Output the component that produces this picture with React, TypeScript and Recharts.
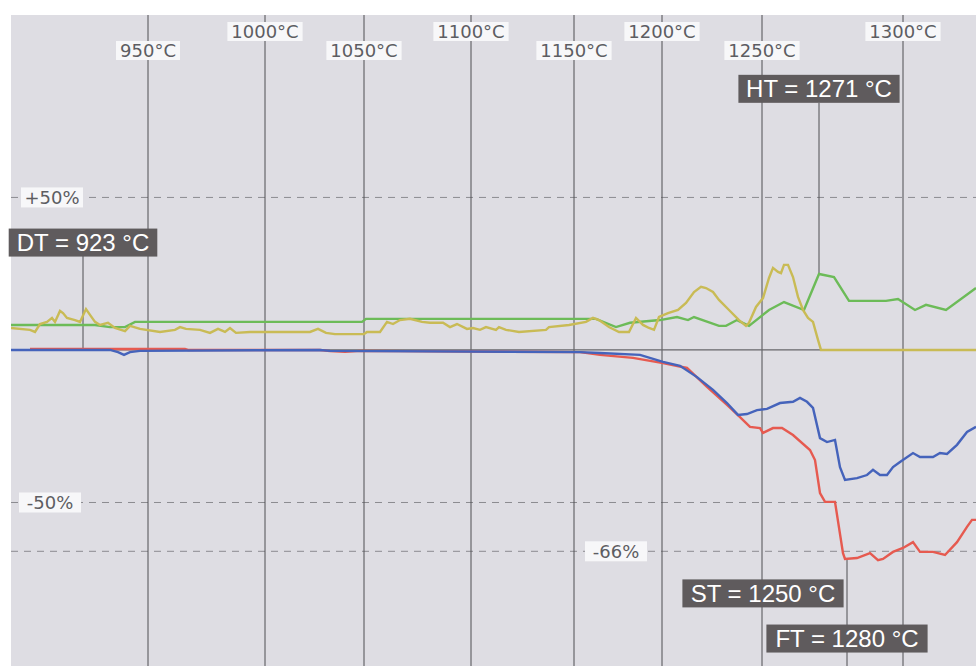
import React from 'react'
import { LineChart, Line, XAxis, YAxis, ReferenceArea, ReferenceLine, ReferenceDot } from 'recharts'

// time axis in minutes, height change in %
const tempLabels = ['950°C', '1000°C', '1050°C', '1100°C', '1150°C', '1200°C', '1250°C', '1300°C']
const tempTimes = [13.7, 25.4, 35.3, 46.0, 56.3, 65.1, 75.1, 89.2]

const levelValues = [50, -50, -66]
const levelLabels = ['+50%', '-50%', '-66%']
const levelLabelTimes = [4.1, 3.9, 60.5]

const markerNames = ['DT', 'HT', 'ST', 'FT']
const markerTemps = [923, 1271, 1250, 1280]
const markerTimes = [7.2, 80.8, 75.2, 83.6]

const greenTime = [0, 8.4, 9.9, 11.4, 12.4, 35.1, 35.5, 58.5, 60.5, 61.9, 64.9, 66.6, 67.7, 68.3, 70.8, 71.5, 72.6, 73.8, 75.8, 77.3, 79.3, 80.8, 82.3, 83.8, 87.5, 88.7, 90.4, 91.5, 93.5, 96.5]
const greenPct = [8.2, 8.2, 7.5, 7.5, 9.2, 9.2, 10.2, 10.2, 7.5, 8.9, 9.8, 10.8, 9.8, 10.8, 7.9, 7.9, 9.8, 7.9, 13.1, 15.7, 13.1, 24.9, 23.9, 16.1, 16.1, 16.7, 13.1, 14.8, 13.1, 20.3]

const yellowTime = [0, 1.9, 2.4, 2.9, 3.6, 4.1, 4.4, 4.9, 5.2, 5.6, 6.4, 6.9, 7.5, 7.9, 8.4, 8.9, 9.7, 10.4, 11.4, 11.9, 12.9, 14.9, 16.4, 16.9, 17.5, 18.9, 19.9, 20.7, 21.4, 21.9, 22.5, 23.9, 29.9, 30.7, 31.5, 32.4, 35.3, 35.6, 36.9, 37.6, 38.2, 38.9, 39.9, 41.1, 41.9, 43.2, 43.9, 44.6, 45.6, 46.2, 46.9, 47.5, 48.5, 48.8, 49.5, 50.8, 53.5, 53.8, 55.8, 57.5, 58.2, 58.8, 59.8, 60.8, 61.8, 62.5, 63.2, 63.8, 64.3, 64.8, 65.7, 66.7, 67.5, 68.3, 69.0, 69.5, 70.2, 70.8, 71.8, 72.8, 73.5, 73.8, 74.5, 75.2, 75.8, 76.2, 76.7, 77.0, 77.3, 77.7, 78.2, 78.7, 79.2, 79.7, 80.2, 80.7, 81.0, 96.5]
const yellowPct = [7.2, 6.6, 5.9, 8.5, 9.2, 10.5, 9.2, 12.8, 12.1, 10.5, 9.8, 9.2, 13.4, 11.5, 9.2, 8.2, 8.9, 7.2, 6.2, 7.9, 6.9, 5.9, 6.6, 7.5, 6.9, 6.6, 5.6, 6.9, 5.9, 7.2, 5.6, 5.9, 5.9, 6.9, 5.6, 5.2, 5.2, 5.9, 5.9, 9.2, 8.5, 9.8, 10.2, 9.2, 8.9, 8.9, 7.5, 8.5, 6.9, 7.2, 6.6, 7.5, 6.6, 7.5, 6.6, 5.9, 6.6, 7.5, 8.2, 9.2, 10.5, 9.8, 7.5, 5.9, 5.9, 10.5, 8.2, 7.2, 6.6, 10.8, 12.1, 13.1, 15.4, 19.0, 20.7, 20.3, 19.0, 16.4, 13.1, 9.8, 7.9, 8.9, 14.1, 17.0, 23.6, 26.9, 25.6, 25.2, 27.9, 27.9, 23.9, 17.4, 13.1, 10.5, 9.2, 3.3, 0, 0]

const redTime = [1.9, 17.4, 17.7, 30.9, 31.9, 33.4, 35.0, 56.9, 58.9, 62.2, 65.2, 67.6, 69.6, 71.6, 72.9, 73.9, 74.9, 75.2, 76.2, 77.1, 78.2, 79.9, 80.4, 80.9, 81.4, 82.4, 83.2, 83.4, 84.6, 85.9, 86.7, 87.2, 88.2, 89.2, 90.2, 90.9, 92.2, 93.4, 94.6, 95.6, 96.1, 96.5]
const redPct = [0.3, 0.3, 0, 0, -0.4, -0.6, -0.3, -0.7, -1.6, -2.6, -4.3, -5.9, -12.1, -18.0, -22.0, -25.2, -25.6, -27.2, -25.6, -25.6, -27.9, -32.8, -36.1, -46.9, -49.8, -49.8, -66.6, -68.5, -68.2, -66.6, -68.9, -68.5, -66.2, -64.9, -63.0, -66.2, -66.2, -67.2, -63.0, -58.0, -55.7, -55.7]

const blueTime = [0, 9.9, 10.7, 11.3, 11.9, 12.9, 30.9, 31.9, 56.9, 58.9, 62.9, 65.2, 66.9, 68.6, 70.2, 71.6, 72.7, 73.6, 74.6, 75.6, 76.9, 78.2, 78.9, 79.6, 80.2, 80.9, 81.6, 82.4, 82.9, 83.4, 84.6, 85.6, 86.2, 86.9, 87.6, 88.2, 88.9, 90.2, 90.9, 92.2, 92.9, 93.6, 94.6, 95.6, 96.5]
const bluePct = [0, 0, -0.7, -1.6, -0.7, -0.3, 0, -0.3, -0.7, -1.0, -1.6, -3.9, -5.2, -8.9, -13.1, -17.4, -21.3, -21.0, -19.7, -19.3, -17.4, -17.0, -15.7, -17.0, -19.0, -28.9, -30.2, -29.5, -38.4, -42.6, -42.0, -41.0, -39.3, -41.0, -41.0, -38.4, -36.7, -33.8, -35.1, -35.1, -33.8, -34.1, -31.1, -26.9, -25.2]

const toPoints = (time: number[], pct: number[]) => time.map((t, i) => ({ t, v: pct[i] }))

const series = [
    { key: 'green', data: toPoints(greenTime, greenPct), color: '#6cbb58' },
    { key: 'yellow', data: toPoints(yellowTime, yellowPct), color: '#c9bb55' },
    { key: 'red', data: toPoints(redTime, redPct), color: '#e65a50' },
    { key: 'blue', data: toPoints(blueTime, bluePct), color: '#4563bb' },
]

const X_DOMAIN: [number, number] = [0, 96.5]
const Y_DOMAIN: [number, number] = [-103.6, 109.8]

// where each marker's dark tag sits, and the leader line under/over it
const markerTagY = [35.2, 85.6, -79.8, -94.6]
const markerLeader: ([number, number] | null)[] = [[0, 30.8], [24.9, 81], null, [-103.6, -68.2]]

const tickFont = '"DejaVu Sans", sans-serif'
const tagFont = '"Liberation Sans", Arial, sans-serif'

function TempTag(props: any) {
    const { viewBox, text, row } = props
    const x = viewBox.x
    const cy = viewBox.y + (row === 0 ? 16.5 : 35.5)
    const w = text.length * 11.2 + 8
    return (
        <g>
            <rect x={x - w / 2} y={cy - 9.5} width={w} height={19} fill="#f7f7f9" />
            <text x={x} y={cy + 6.5} textAnchor="middle" fontSize={18} fontFamily={tickFont} fill="#5d5d62">{text}</text>
        </g>
    )
}

function LevelTag(props: any) {
    const { cx, cy, text } = props
    const w = 62
    return (
        <g>
            <rect x={cx - w / 2} y={cy - 10} width={w} height={20} fill="#f7f7f9" />
            <text x={cx} y={cy + 6.5} textAnchor="middle" fontSize={18} fontFamily={tickFont} fill="#5d5d62">{text}</text>
        </g>
    )
}

function MarkerTag(props: any) {
    const { cx, cy, text } = props
    const w = text.length * 12.6 + 10
    return (
        <g>
            <rect x={cx - w / 2} y={cy - 14} width={w} height={28} fill="#5f5b5d" />
            <text x={cx} y={cy + 8.5} textAnchor="middle" fontSize={24} fontFamily={tagFont} fill="#ffffff">{text}</text>
        </g>
    )
}

export default function App() {
    return (
        <div style={{ position: 'absolute', left: 0, top: 0, width: 976, height: 666, background: '#ffffff' }}>
            <LineChart width={976} height={666} margin={{ top: 15, right: 0, bottom: 0, left: 11 }}>
                <XAxis type="number" dataKey="t" domain={X_DOMAIN} hide allowDataOverflow />
                <YAxis type="number" dataKey="v" domain={Y_DOMAIN} hide allowDataOverflow />
                <ReferenceArea x1={X_DOMAIN[0]} x2={X_DOMAIN[1]} y1={Y_DOMAIN[0]} y2={Y_DOMAIN[1]} fill="#dedde3" fillOpacity={1} stroke="none" />
                {levelValues.map((v) => (
                    <ReferenceLine key={`lvl-${v}`} y={v} stroke="#8b8b90" strokeDasharray="7 6" />
                ))}
                {tempTimes.map((t, i) => (
                    <ReferenceLine key={`temp-${i}`} x={t} stroke="#4e4e52" strokeWidth={1}
                        label={(p: any) => <TempTag {...p} text={tempLabels[i]} row={i % 2 === 0 ? 1 : 0} />} />
                ))}
                {markerLeader.map((seg, i) => seg && (
                    <ReferenceLine key={`lead-${i}`} segment={[{ x: markerTimes[i], y: seg[0] }, { x: markerTimes[i], y: seg[1] }]} stroke="#4e4e52" strokeWidth={1} />
                ))}
                <ReferenceLine y={0} stroke="#66666a" strokeWidth={1.2} />
                {series.map((s) => (
                    <Line key={s.key} data={s.data} dataKey="v" type="linear" stroke={s.color} strokeWidth={2.4}
                        dot={false} activeDot={false} isAnimationActive={false} />
                ))}
                {levelValues.map((v, i) => (
                    <ReferenceDot key={`lvl-tag-${i}`} x={levelLabelTimes[i]} y={v} r={0}
                        shape={(p: any) => <LevelTag {...p} text={levelLabels[i]} />} />
                ))}
                {markerNames.map((name, i) => (
                    <ReferenceDot key={`tag-${name}`} x={markerTimes[i]} y={markerTagY[i]} r={0}
                        shape={(p: any) => <MarkerTag {...p} text={`${name} = ${markerTemps[i]} °C`} />} />
                ))}
            </LineChart>
        </div>
    )
}
